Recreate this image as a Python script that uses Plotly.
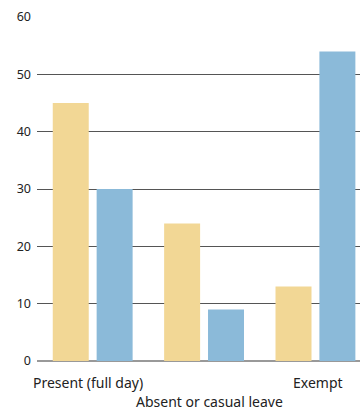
import plotly.graph_objects as go

categories = ["Present (full day)", "Absent or casual leave", "Exempt"]
series_a = [45, 24, 13]
series_b = [30, 9, 54]
y_ticks = [0, 10, 20, 30, 40, 50, 60]

# label styling (staggered rows, small offsets)
label_row_shift = [-21, -40, -21]
label_x_shift = [-5, 5, 2.5]

x_idx = list(range(len(categories)))

fig = go.Figure()
fig.add_trace(go.Bar(x=x_idx, y=series_a, marker=dict(color="#f2d795", line=dict(width=0)), name="A"))
fig.add_trace(go.Bar(x=x_idx, y=series_b, marker=dict(color="#8bbad9", line=dict(width=0)), name="B"))

for i, cat in enumerate(categories):
    fig.add_annotation(
        x=x_idx[i], y=0, xref="x", yref="paper", text=cat, showarrow=False,
        xanchor="center", yanchor="middle", yshift=label_row_shift[i], xshift=label_x_shift[i],
        font=dict(size=14, color="#222"), borderpad=0,
    )

fig.update_layout(
    width=360, height=410,
    margin=dict(l=37, r=0, t=17, b=49),
    barmode="group", bargap=0.212, bargroupgap=0.18,
    showlegend=False,
    plot_bgcolor="white", paper_bgcolor="white",
    font=dict(family="Noto Sans, Open Sans, sans-serif", size=13, color="#222"),
    xaxis=dict(
        range=[-0.5, 2.4], tickmode="array", tickvals=x_idx, showticklabels=False,
        showgrid=False, showline=False, zeroline=False, ticks="",
        automargin=False, fixedrange=True,
    ),
    yaxis=dict(
        range=[0, 60], tickmode="array", tickvals=y_ticks,
        showgrid=True, gridcolor="#555", gridwidth=1,
        zeroline=True, zerolinecolor="#999", zerolinewidth=2,
        showline=False, ticks="", ticklabelstandoff=5, automargin=False,
        tickfont=dict(size=12.5, color="#222"), fixedrange=True,
    ),
)

fig.write_html("out.html")
